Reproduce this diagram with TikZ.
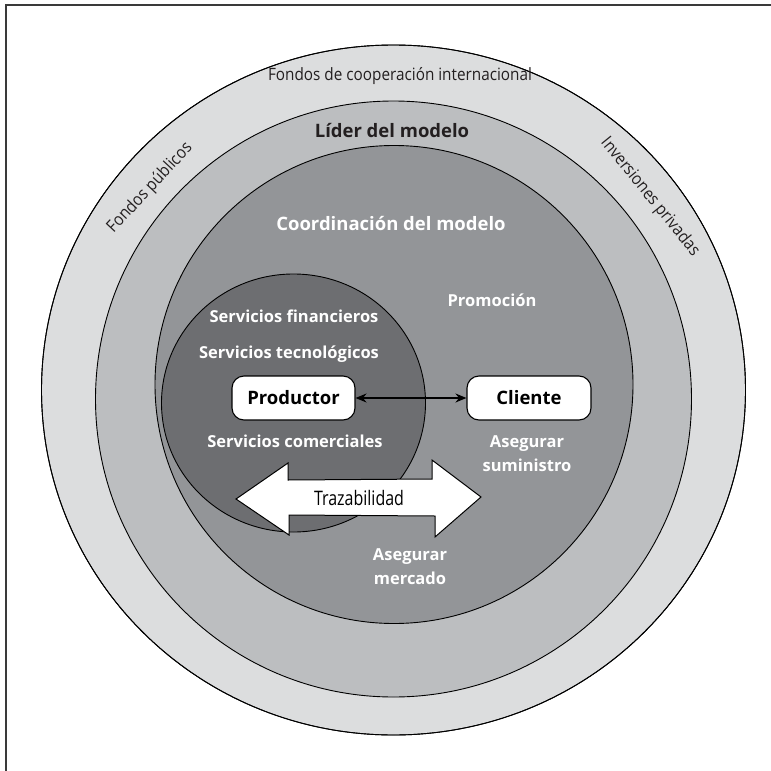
\documentclass[tikz,border=0pt]{standalone}
\usepackage{fontspec}
\setmainfont{Open Sans}
\newfontfamily\condfont[FakeStretch=0.9]{Open Sans}
\newfontfamily\trazfont[FakeStretch=0.8]{Open Sans}
\usetikzlibrary{arrows.meta}
\definecolor{ringA}{HTML}{DCDDDE}
\definecolor{ringB}{HTML}{BCBEC0}
\definecolor{ringC}{HTML}{939598}
\definecolor{ringD}{HTML}{6D6E71}
\definecolor{framec}{HTML}{3A3A3A}
\definecolor{inkc}{HTML}{231F20}
\tikzset{
  ring/.style={draw=black, line width=0.9pt},
  ringlabel/.style={font=\condfont\fontsize{17}{20}\selectfont, text=inkc, inner sep=0pt},
  whitelabel/.style={font=\bfseries\fontsize{16.5}{24}\selectfont, text=white, inner sep=0pt, align=center},
  biglabel/.style={font=\bfseries\fontsize{18.5}{22}\selectfont, inner sep=0pt},
  actorbox/.style={draw=black, line width=1.1pt, fill=white, rounded corners=12pt,
    minimum height=44pt, font=\bfseries\fontsize{18.5}{22}\selectfont, inner sep=0pt},
  bigarrow/.style={draw=black, line width=1pt, fill=white, line join=miter}
}
\begin{document}
\begin{tikzpicture}[x=1pt,y=-1pt]
\useasboundingbox (0,0) rectangle (771,771);
% frame (left and top)
\draw[framec, line width=2pt] (6,771) -- (6,5) -- (771,5);
% rings
\fill[ringA, ring] (393.5,390) ellipse [x radius=352pt, y radius=345pt];
\draw[ring] (393.5,390) ellipse [x radius=352pt, y radius=345pt];
\filldraw[fill=ringB, ring] (393.5,399) circle [radius=298pt];
\filldraw[fill=ringC, ring] (394,384.5) circle [radius=239pt];
\filldraw[fill=ringD, ring] (293.5,403) ellipse [x radius=132pt, y radius=129pt];
% ring labels
\node[ringlabel] (fci) at (400,76) {Fondos de cooperación internacional};
\node[ringlabel, rotate=47] (fp) at (150,188) {Fondos públicos};
\node[ringlabel, rotate=-51] (ip) at (650,197) {Inversiones privadas};
\node[biglabel, text=inkc] (lider) at (392,131) {Líder del modelo};
\node[biglabel, text=white] (coord) at (391,224) {Coordinación del modelo};
\node[whitelabel] (prom) at (492,300) {Promoción};
\node[whitelabel] (sfin) at (294,316) {Servicios financieros};
\node[whitelabel] (stec) at (289,354) {Servicios tecnológicos};
\node[whitelabel] (scom) at (295,441) {Servicios comerciales};
\node[whitelabel] (asum) at (527,454) {Asegurar\\suministro};
\node[whitelabel] (amer) at (410,567) {Asegurar\\mercado};
% big double arrow
\draw[bigarrow] (236,499) -- (288,463) -- (288,480) -- (432,479) -- (432,460) -- (481,497)
  -- (435,537) -- (435,516) -- (289,515) -- (289,535) -- cycle;
\node[font=\trazfont\fontsize{20}{24}\selectfont, inner sep=0pt] (traz) at (359,498) {Trazabilidad};
% actors
\node[actorbox, minimum width=123pt] (prod) at (293.5,398) {Productor};
\node[actorbox, minimum width=124pt] (cli) at (529,398) {Cliente};
\draw[line width=1.3pt, {Stealth[length=11pt,width=9pt]}-{Stealth[length=11pt,width=9pt]}]
  (prod.east) -- (cli.west);
\end{tikzpicture}
\end{document}
